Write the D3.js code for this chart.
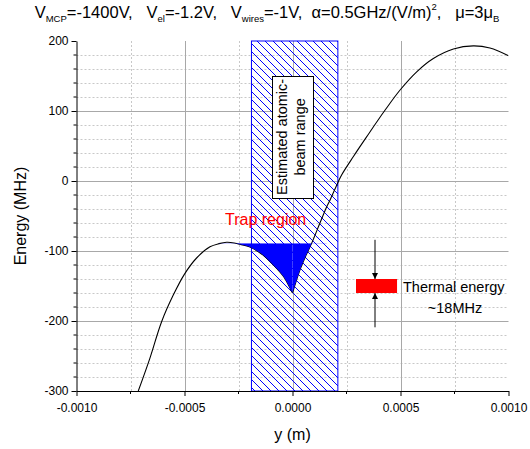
<!DOCTYPE html>
<html><head><meta charset="utf-8">
<script src="https://cdn.jsdelivr.net/npm/d3@7"></script>
<style>
html,body{margin:0;padding:0;background:#fff;}
svg{display:block;font-family:"Liberation Sans",Arial,sans-serif;}
</style></head>
<body><svg id="c" width="530" height="449"></svg>
<script>
// ---- data ----
const positions = [-0.000714,-0.00066,-0.000606,-0.000552,-0.0005,-0.000444,-0.000382,-0.00034,-0.000305,-0.00027,-0.000251,-0.0002,-0.000135,-0.0001,-0.000073,-0.00004,-0.000027,0];
const energies  = [-300,-253,-201,-163,-133,-110,-94,-89.5,-87.6,-88.5,-90,-94,-106,-116,-125,-137,-144,-160];
const positionsRight = [0,0.0000347,0.00006,0.00009,0.000127,0.000158,0.000174,0.000212,0.000228,0.000282,0.000343,0.000428,0.000498,0.000575,0.000652,0.000745,0.000837,0.000914,0.001];
const energiesRight  = [-160,-127,-108,-88,-60,-37,-27,-1,9,35,63,101,130,156,175,188.6,193,190,179];
const beamRange = [-0.00019, 0.00021];
const trapTop = -89;
const thermalBand = [-160, -140];
const xTickValues = [-0.001,-0.0005,0,0.0005,0.001];
const yTickValues = [-300,-200,-100,0,100,200];

const svg = d3.select("#c");
const L=76.5, R=508.5, T=41, B=391;
const x = d3.scaleLinear().domain([-0.001,0.001]).range([L,R]);
const y = d3.scaleLinear().domain([-300,200]).range([B,T]);
const hyph = f => d => f(d).replace("\u2212","-");

// grid
const g = svg.append("g");
const minorX = d3.range(-0.00075,0.001,0.0005);
const majorX = [-0.0005,0,0.0005];
const minorY = d3.range(-280,200,20).filter(v=>Math.abs(v%100)>1e-9);
const majorY = [-200,-100,0,100];
g.selectAll(".mx").data(minorX).join("line").attr("x1",d=>Math.round(x(d))+0.5).attr("x2",d=>Math.round(x(d))+0.5).attr("y1",T).attr("y2",B)
  .attr("stroke","#c8c8c8").attr("stroke-dasharray","2,2");
g.selectAll(".my").data(minorY).join("line").attr("y1",d=>Math.round(y(d))+0.5).attr("y2",d=>Math.round(y(d))+0.5).attr("x1",L).attr("x2",R)
  .attr("stroke","#c8c8c8").attr("stroke-dasharray","2,2");
g.selectAll(".Mx").data(majorX).join("line").attr("x1",d=>Math.round(x(d))+0.5).attr("x2",d=>Math.round(x(d))+0.5).attr("y1",T).attr("y2",B)
  .attr("stroke","#a8a8a8");
g.selectAll(".My").data(majorY).join("line").attr("y1",d=>Math.round(y(d))+0.5).attr("y2",d=>Math.round(y(d))+0.5).attr("x1",L).attr("x2",R)
  .attr("stroke","#a8a8a8");

// hatch pattern
const defs = svg.append("defs");
const pat = defs.append("pattern").attr("id","hatch").attr("patternUnits","userSpaceOnUse").attr("width",8).attr("height",8);
pat.append("path").attr("d","M-2,-2 L10,10 M-2,6 L2,10 M6,-2 L10,2").attr("stroke","#0000ff").attr("stroke-width",1);
defs.append("clipPath").attr("id","plot").append("rect").attr("x",L).attr("y",T).attr("width",R-L).attr("height",B-T);
defs.append("clipPath").attr("id","trapclip").append("rect").attr("x",L).attr("y",y(trapTop)).attr("width",R-L).attr("height",B-y(trapTop));

svg.append("rect").attr("x",x(beamRange[0])).attr("y",y(200)).attr("width",x(beamRange[1])-x(beamRange[0])).attr("height",y(-300)-y(200))
  .attr("fill","url(#hatch)").attr("stroke","#0000ff").attr("stroke-width",1);

// curve
const leftPts = positions.map((p,i)=>[p,energies[i]]);
const rightPts = positionsRight.map((p,i)=>[p,energiesRight[i]]);
const line = d3.line().x(d=>x(d[0])).y(d=>y(d[1])).curve(d3.curveCatmullRom.alpha(0.5));
const cg = svg.append("g").attr("clip-path","url(#plot)");
cg.append("path").attr("d",line(leftPts)).attr("fill","none").attr("stroke","#000").attr("stroke-width",1.1);
cg.append("path").attr("d",line(rightPts)).attr("fill","none").attr("stroke","#000").attr("stroke-width",1.1);

// trap fill
const area = d3.area().x(d=>x(d[0])).y0(y(trapTop)).y1(d=>y(d[1])).curve(d3.curveCatmullRom.alpha(0.5));
const tg = svg.append("g").attr("clip-path","url(#trapclip)");
tg.append("path").attr("d",area(leftPts.filter(d=>d[0]>-0.00036))).attr("fill","#0000ff");
tg.append("path").attr("d",area(rightPts.filter(d=>d[0]<0.00016))).attr("fill","#0000ff");

// text box
const bx0 = x(-0.0000961), bx1 = x(0.0000935), by0 = y(150), by1 = y(-24);
svg.append("rect").attr("x",Math.round(bx0)+0.5).attr("y",Math.round(by0)+0.5).attr("width",Math.round(bx1-bx0)).attr("height",Math.round(by1-by0))
  .attr("fill","#fff").attr("stroke","#000").attr("stroke-width",1);
const bt = svg.append("text").attr("transform",`translate(${(bx0+bx1)/2},${(by0+by1)/2}) rotate(-90)`).attr("text-anchor","middle").attr("font-size",14.5);
bt.append("tspan").attr("x",0).attr("y",-5).text("Estimated atomic-");
bt.append("tspan").attr("x",0).attr("y",12.5).text("beam range");

// trap label
svg.append("text").attr("x",225).attr("y",225).attr("fill","#ff0000").attr("font-size",16).text("Trap region");

// thermal energy
const ax = x(0.000382);
svg.append("rect").attr("x",x(0.000294)).attr("y",y(thermalBand[1])).attr("width",x(0.000484)-x(0.000294)).attr("height",y(thermalBand[0])-y(thermalBand[1])).attr("fill","#ff0000");
defs.append("marker").attr("id","arr").attr("viewBox","0 0 10 10").attr("refX",10).attr("refY",5).attr("markerWidth",6).attr("markerHeight",8)
  .attr("markerUnits","userSpaceOnUse").attr("orient","auto").append("path").attr("d","M0,0 L10,5 L0,10 Z").attr("fill","#000");
svg.append("line").attr("x1",ax).attr("x2",ax).attr("y1",y(-84)).attr("y2",y(thermalBand[1])).attr("stroke","#000").attr("marker-end","url(#arr)");
svg.append("line").attr("x1",ax).attr("x2",ax).attr("y1",y(-209)).attr("y2",y(thermalBand[0])).attr("stroke","#000").attr("marker-end","url(#arr)");
svg.append("text").attr("x",403).attr("y",292).attr("font-size",14.5).text("Thermal energy");
svg.append("text").attr("x",455).attr("y",313).attr("font-size",14.5).attr("text-anchor","middle").text("~18MHz");

// axes
const xAxis = svg.append("g").attr("transform",`translate(0,${B})`);
xAxis.call(d3.axisBottom(x).tickValues(xTickValues).tickFormat(hyph(d3.format(".4f"))).tickSize(5).tickSizeOuter(0));
xAxis.append("g").selectAll("line").data(minorX).join("line").attr("x1",d=>x(d)).attr("x2",d=>x(d)).attr("y1",0).attr("y2",3).attr("stroke","#000");
const yAxis = svg.append("g").attr("transform",`translate(${L},0)`);
yAxis.call(d3.axisLeft(y).tickValues(yTickValues).tickFormat(hyph(d3.format("d"))).tickSize(5).tickSizeOuter(0));
yAxis.append("g").selectAll("line").data(d3.range(-280,200,20).filter(v=>v%100!==0)).join("line").attr("y1",d=>y(d)).attr("y2",d=>y(d)).attr("x1",0).attr("x2",-3).attr("stroke","#000");
svg.selectAll(".tick text").attr("font-size",12).attr("font-family","Liberation Sans, Arial, sans-serif").attr("fill","#000");
svg.selectAll(".domain").attr("stroke","#000");
xAxis.selectAll(".tick text").attr("dy","1.1em");

svg.append("text").attr("x",292.5).attr("y",440).attr("text-anchor","middle").attr("font-size",16).text("y (m)");
svg.append("text").attr("transform",`translate(26,${(T+B)/2}) rotate(-90)`).attr("text-anchor","middle").attr("font-size",16).text("Energy (MHz)");

// title
const tt = svg.append("text").attr("x",267).attr("y",18).attr("text-anchor","middle").attr("font-size",16.5).style("white-space","pre");
tt.append("tspan").text("V");
tt.append("tspan").attr("font-size",9.5).attr("dy",4).text("MCP");
tt.append("tspan").attr("dy",-4).text("=-1400V,   V");
tt.append("tspan").attr("font-size",9.5).attr("dy",4).text("el");
tt.append("tspan").attr("dy",-4).text("=-1.2V,   V");
tt.append("tspan").attr("font-size",9.5).attr("dy",4).text("wires");
tt.append("tspan").attr("dy",-4).text("=-1V,  α=0.5GHz/(V/m)");
tt.append("tspan").attr("font-size",9.5).attr("dy",-8).text("2");
tt.append("tspan").attr("dy",8).text(",   μ=3μ");
tt.append("tspan").attr("font-size",9.5).attr("dy",4).text("B");
</script></body></html>
